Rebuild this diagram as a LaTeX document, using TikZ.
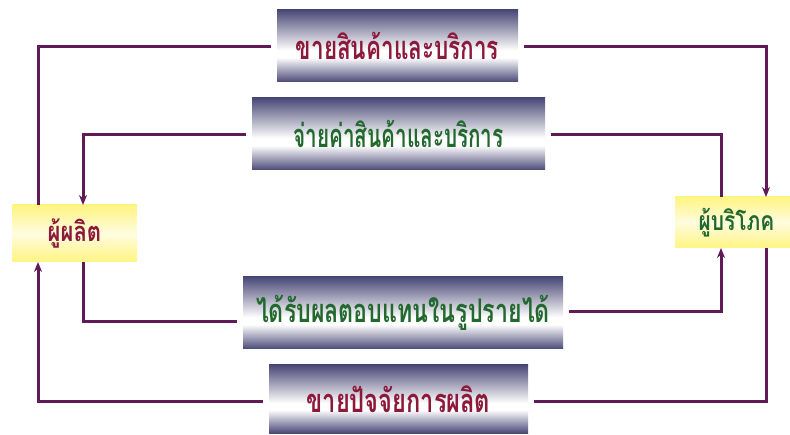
\documentclass[tikz,border=0pt]{standalone}
\usepackage{fontspec}
\usepackage{graphicx}
\newfontfamily\thaifont[Script=Thai]{Loma}
\usetikzlibrary{arrows.meta,calc}
\definecolor{boxdark}{RGB}{74,72,118}
\definecolor{flowc}{RGB}{96,26,88}
\definecolor{redtxt}{RGB}{140,24,58}
\definecolor{greentxt}{RGB}{34,105,46}
\definecolor{ylw}{RGB}{255,244,130}
\pgfdeclareverticalshading{boxshade}{100bp}{color(0bp)=(boxdark); color(25bp)=(boxdark); color(42bp)=(white); color(47bp)=(white); color(75bp)=(boxdark); color(100bp)=(boxdark)}
\tikzset{
  flowbox/.style={shading=boxshade, inner sep=0pt, outer sep=6pt, font=\thaifont\bfseries\fontsize{22.5}{26}\selectfont},
  party/.style={top color=ylw, bottom color=ylw, middle color=ylw!25!white, inner sep=0pt, outer sep=0pt, font=\thaifont\bfseries\fontsize{21}{24}\selectfont},
  flow/.style={draw=flowc, line width=3pt},
  tip/.style={-{Stealth[length=10pt,width=8pt]}}
}
\begin{document}
\begin{tikzpicture}[x=1pt,y=1pt]
\useasboundingbox (0,0) rectangle (790,434);
\node[flowbox, minimum width=241pt, minimum height=72pt, text=redtxt] (b1) at (397.5,388) {\scalebox{1}[1.45]{ขายสินค้าและบริการ}};
\node[flowbox, minimum width=293pt, minimum height=72pt, text=greentxt] (b2) at (398.5,300) {\scalebox{0.92}[1.45]{จ่ายค่าสินค้าและบริการ}};
\node[flowbox, minimum width=320pt, minimum height=72pt, text=greentxt] (b3) at (403,121) {\scalebox{1.03}[1.45]{ได้รับผลตอบแทนในรูปรายได้}};
\node[flowbox, minimum width=259pt, minimum height=68pt, text=redtxt] (b4) at (398.5,35) {\scalebox{1.05}[1.45]{ขายปัจจัยการผลิต}};
\node[party, minimum width=125pt, minimum height=57pt, text=redtxt] (prod) at (74.5,200.5) {\scalebox{1.05}[1.3]{ผู้ผลิต}};
\node[party, minimum width=115pt, minimum height=51pt, text=greentxt, font=\thaifont\bfseries\fontsize{19}{22}\selectfont] (cons) at (732.5,211.5) {\hspace*{8pt}\scalebox{1.1}[1.4]{ผู้บริโภค}};
% producer side x: 38 and 83 ; consumer side x: 721 and 766
\draw[flow] ([yshift=-1pt]b1.west) -| ($(prod.north west)+(26,0)$);
\draw[flow,tip] ([yshift=-1pt]b1.east) -| ($(cons.north west)+(91,0)$);
\draw[flow,tip] ([yshift=-1pt]b2.west) -| ($(prod.north west)+(71,0)$);
\draw[flow] ([yshift=-1pt]b2.east) -| ($(cons.north west)+(46,0)$);
\draw[flow] ($(prod.south west)+(71,0)$) |- ([yshift=-9pt]b3.west);
\draw[flow,tip] ([yshift=1pt]b3.east) -| ($(cons.south west)+(46,0)$);
\draw[flow,tip] ([yshift=-2pt]b4.west) -| ($(prod.south west)+(26,0)$);
\draw[flow] ($(cons.south west)+(91,0)$) |- ([yshift=-2pt]b4.east);
\end{tikzpicture}
\end{document}
